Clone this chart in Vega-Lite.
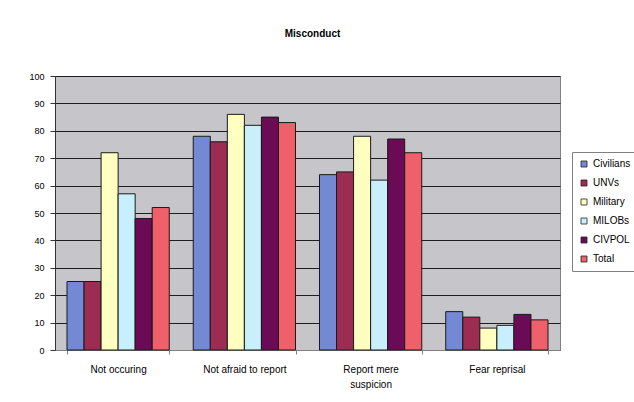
{
  "$schema": "https://vega.github.io/schema/vega-lite/v6.json",
  "autosize": {"type": "none"},
  "width": 505,
  "height": 274,
  "padding": {"left": 55, "top": 76, "right": 74, "bottom": 52},
  "background": "white",
  "title": {
    "text": "Misconduct",
    "font": "Liberation Sans",
    "fontSize": 10,
    "fontWeight": "bold",
    "color": "black",
    "offset": 33,
    "anchor": "middle",
    "dx": 5
  },
  "config": {
    "font": "Liberation Sans",
    "view": {"fill": "#c6c6ca", "stroke": "#808080", "strokeWidth": 1}
  },
  "data": {
    "values": [
      {"q": "Not occuring", "g": "Civilians", "v": 25},
      {"q": "Not occuring", "g": "UNVs", "v": 25},
      {"q": "Not occuring", "g": "Military", "v": 72},
      {"q": "Not occuring", "g": "MILOBs", "v": 57},
      {"q": "Not occuring", "g": "CIVPOL", "v": 48},
      {"q": "Not occuring", "g": "Total", "v": 52},
      {"q": "Not afraid to report", "g": "Civilians", "v": 78},
      {"q": "Not afraid to report", "g": "UNVs", "v": 76},
      {"q": "Not afraid to report", "g": "Military", "v": 86},
      {"q": "Not afraid to report", "g": "MILOBs", "v": 82},
      {"q": "Not afraid to report", "g": "CIVPOL", "v": 85},
      {"q": "Not afraid to report", "g": "Total", "v": 83},
      {"q": "Report mere suspicion", "g": "Civilians", "v": 64},
      {"q": "Report mere suspicion", "g": "UNVs", "v": 65},
      {"q": "Report mere suspicion", "g": "Military", "v": 78},
      {"q": "Report mere suspicion", "g": "MILOBs", "v": 62},
      {"q": "Report mere suspicion", "g": "CIVPOL", "v": 77},
      {"q": "Report mere suspicion", "g": "Total", "v": 72},
      {"q": "Fear reprisal", "g": "Civilians", "v": 14},
      {"q": "Fear reprisal", "g": "UNVs", "v": 12},
      {"q": "Fear reprisal", "g": "Military", "v": 8},
      {"q": "Fear reprisal", "g": "MILOBs", "v": 9},
      {"q": "Fear reprisal", "g": "CIVPOL", "v": 13},
      {"q": "Fear reprisal", "g": "Total", "v": 11}
    ]
  },
  "mark": {"type": "bar", "stroke": "#1a1a1a", "strokeWidth": 1},
  "encoding": {
    "x": {
      "field": "q",
      "type": "nominal",
      "sort": null,
      "title": null,
      "scale": {"paddingInner": 0.19, "paddingOuter": 0.095},
      "axis": {
        "labelAngle": 0,
        "labelFontSize": 10,
        "labelColor": "black",
        "labelPadding": 10,
        "labelLineHeight": 15,
        "labelExpr": "datum.value == 'Report mere suspicion' ? ['Report mere', 'suspicion'] : datum.value",
        "tickBand": "extent",
        "tickSize": 4,
        "tickColor": "#808080",
        "domainColor": "#808080"
      }
    },
    "xOffset": {
      "field": "g",
      "type": "nominal",
      "sort": ["Civilians", "UNVs", "Military", "MILOBs", "CIVPOL", "Total"],
      "scale": {"paddingInner": 0, "paddingOuter": 0}
    },
    "y": {
      "field": "v",
      "type": "quantitative",
      "title": null,
      "scale": {"domain": [0, 100], "nice": false},
      "axis": {
        "values": [0, 10, 20, 30, 40, 50, 60, 70, 80, 90, 100],
        "labelFontSize": 9,
        "labelColor": "black",
        "labelPadding": 6,
        "tickSize": 5,
        "tickColor": "#333333",
        "domainColor": "#333333",
        "grid": true,
        "gridColor": "#1e1e1e",
        "gridWidth": 1
      }
    },
    "color": {
      "field": "g",
      "type": "nominal",
      "sort": ["Civilians", "UNVs", "Military", "MILOBs", "CIVPOL", "Total"],
      "scale": {
        "domain": ["Civilians", "UNVs", "Military", "MILOBs", "CIVPOL", "Total"],
        "range": ["#7389d3", "#9c2c52", "#ffffc0", "#c8f0fc", "#6b0b55", "#f0606a"]
      },
      "legend": {
        "title": null,
        "orient": "none",
        "legendX": 517,
        "legendY": 76,
        "fillColor": "white",
        "strokeColor": "#808080",
        "padding": 7,
        "symbolType": "square",
        "symbolSize": 36,
        "symbolStrokeColor": "#222222",
        "symbolStrokeWidth": 0.8,
        "symbolOpacity": 1,
        "labelFontSize": 10,
        "labelColor": "black",
        "rowPadding": 9,
        "labelOffset": 4
      }
    }
  }
}
